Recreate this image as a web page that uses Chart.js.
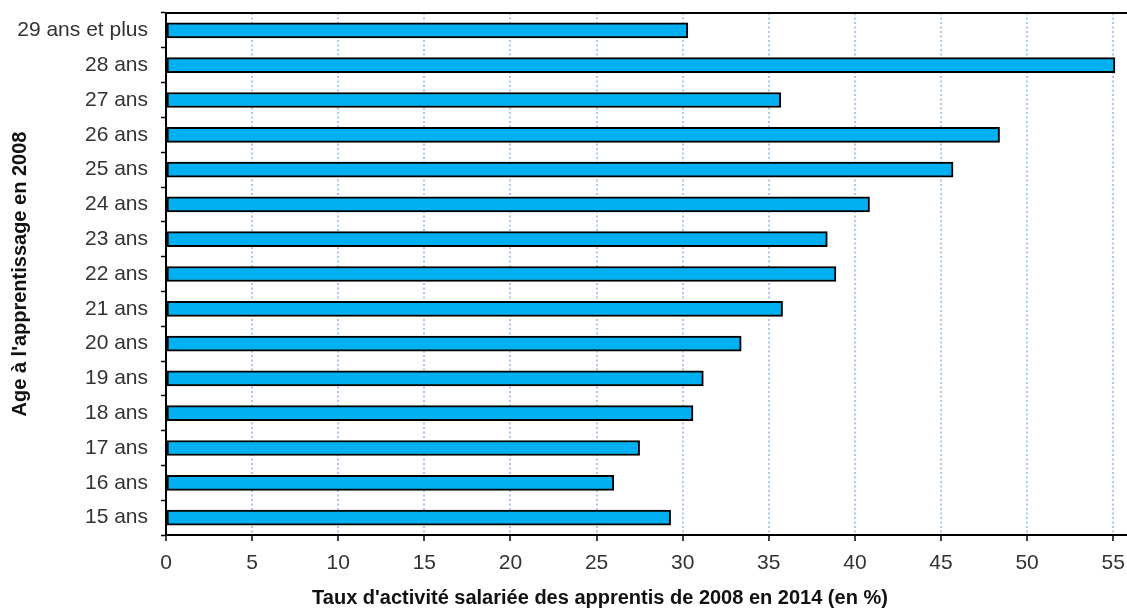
<!DOCTYPE html>
<html lang="fr">
<head>
<meta charset="utf-8" />
<script src="https://cdn.jsdelivr.net/npm/chart.js@4/dist/chart.umd.min.js"></script>
<style>
  body { margin: 0; background: #fff; }
  #wrap { position: relative; width: 1127px; height: 610px; }
  #xTitle {
    position: absolute; left: 0; width: 1200px; top: 586px;
    text-align: center; font: bold 20px "Liberation Sans", Arial, sans-serif; color: #111;
  }
</style>
<script>
  // donnees (du plus jeune au plus age)
  var ages = ['15 ans','16 ans','17 ans','18 ans','19 ans','20 ans','21 ans','22 ans',
              '23 ans','24 ans','25 ans','26 ans','27 ans','28 ans','29 ans et plus'];
  var taux = [29.3, 26.0, 27.5, 30.6, 31.2, 33.4, 35.8, 38.9, 38.4, 40.85, 45.7, 48.4, 35.7, 55.1, 30.3];
  var xTicks = [0, 5, 10, 15, 20, 25, 30, 35, 40, 45, 50, 55];
</script>
</head>
<body>
<div id="wrap">
  <canvas id="myChart" width="1127" height="610"></canvas>
  <div id="xTitle">Taux d'activité salariée des apprentis de 2008 en 2014 (en %)</div>
</div>
<script>
  // ligne du haut du cadre
  const topBorder = {
    id: 'topBorder',
    afterDraw(chart) {
      const a = chart.chartArea, c = chart.ctx;
      c.save();
      c.strokeStyle = '#000';
      c.lineWidth = 2;
      c.beginPath();
      c.moveTo(a.left, a.top);
      c.lineTo(a.right, a.top);
      c.stroke();
      c.restore();
    }
  };

  const ctx = document.getElementById('myChart');
  const myChart = new Chart(ctx, {
    type: 'bar',
    data: {
      labels: ages,
      datasets: [{
        data: taux,
        backgroundColor: '#00b0f0',
        borderColor: '#000',
        borderWidth: 2,
        borderSkipped: false,
        barThickness: 15
      }]
    },
    options: {
      indexAxis: 'y',
      responsive: false,
      animation: false,
      layout: { padding: { top: 13, left: 0, right: 0, bottom: 0 } },
      plugins: { legend: { display: false }, tooltip: { enabled: false } },
      scales: {
        x: {
          min: 0,
          max: 55.8,
          afterBuildTicks: s => { s.ticks = xTicks.map(v => ({ value: v })); },
          afterFit: s => { s.height = 75; s.paddingRight = 0; s.paddingLeft = 0; },
          ticks: {
            color: '#333',
            padding: 10,
            maxRotation: 0,
            font: { family: '"Liberation Sans", Arial, sans-serif', size: 21 }
          },
          grid: {
            color: c => (c.tick && c.tick.value === 0) ? 'rgba(0,0,0,0)' : 'rgba(150,178,232,0.75)',
            lineWidth: 2,
            tickColor: '#000',
            tickWidth: 1.5,
            tickLength: 6
          },
          border: { color: '#000', width: 2, dash: [2, 2.5] }
        },
        y: {
          reverse: true,
          afterFit: s => { s.width = 166; s.paddingTop = 0; s.paddingBottom = 0; },
          ticks: {
            color: '#333',
            padding: 13,
            font: { family: '"Liberation Sans", Arial, sans-serif', size: 21 }
          },
          grid: {
            drawOnChartArea: false,
            tickColor: '#000',
            tickWidth: 1.5,
            tickLength: 5
          },
          border: { color: '#000', width: 2 },
          title: {
            display: true,
            text: "Age à l'apprentissage en 2008",
            color: '#111',
            padding: { top: 8, bottom: 0 },
            font: { family: '"Liberation Sans", Arial, sans-serif', size: 20, weight: 'bold' }
          }
        }
      }
    },
    plugins: [topBorder]
  });
</script>
</body>
</html>
